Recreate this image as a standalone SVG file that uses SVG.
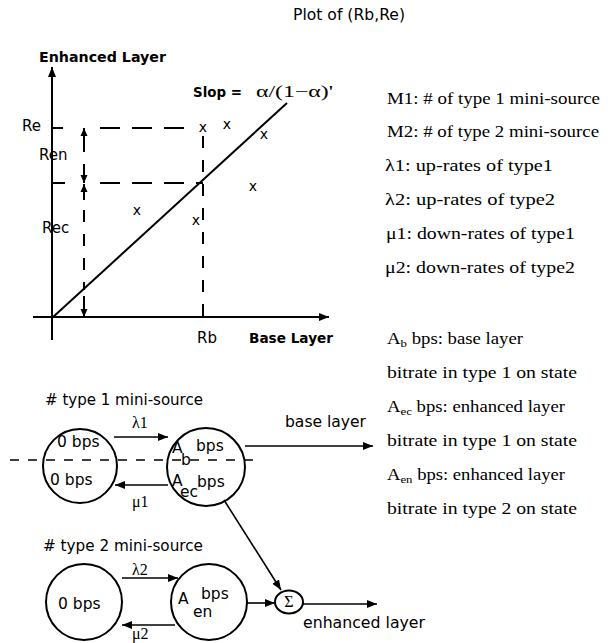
<svg xmlns="http://www.w3.org/2000/svg" width="610" height="643" viewBox="0 0 610 643">
<defs>
<marker id="ah" markerUnits="userSpaceOnUse" markerWidth="10" markerHeight="8" refX="10" refY="4" orient="auto">
<path d="M0,0 L10,4 L0,8 z" fill="#000"/>
</marker>
<marker id="ahs" markerUnits="userSpaceOnUse" markerWidth="8" markerHeight="8" refX="8" refY="4" orient="auto">
<path d="M0,0.5 L8,4 L0,7.5 z" fill="#000"/>
</marker>
</defs>
<style>
.s{font-family:"DejaVu Sans","Liberation Sans",sans-serif;font-size:15px;fill:#000}
.c{font-size:15.5px}
.b{font-weight:bold;font-size:13.5px}
.r{font-family:"Liberation Serif","DejaVu Serif",serif;font-size:16px;fill:#000}
.ln{stroke:#000;stroke-width:2;fill:none}
.th{stroke:#000;stroke-width:1.6;fill:none}
.d{stroke:#000;stroke-width:2;fill:none;stroke-dasharray:20 12}
.dv{stroke:#000;stroke-width:2;fill:none;stroke-dasharray:12 12}
.dh{stroke:#000;stroke-width:1.6;fill:none;stroke-dasharray:9 9}
.n{stroke:#000;stroke-width:2;fill:#fff}
.x{font-family:"DejaVu Sans",sans-serif;font-size:14px;text-anchor:middle}
</style>
<rect width="610" height="643" fill="#fff"/>

<!-- Plot -->
<g id="plot">
<text class="s" x="293" y="20" textLength="112" lengthAdjust="spacingAndGlyphs">Plot  of (Rb,Re)</text>
<text class="s b" x="39" y="62" textLength="127" lengthAdjust="spacingAndGlyphs">Enhanced Layer</text>
<line class="ln" x1="52" y1="340" x2="52" y2="67" marker-end="url(#ah)"/>
<line class="ln" x1="33" y1="317" x2="329" y2="317" marker-end="url(#ah)"/>
<text class="s b" x="249" y="343" textLength="84" lengthAdjust="spacingAndGlyphs">Base Layer</text>
<text class="s" x="197" y="343">Rb</text>
<text class="s" x="22" y="131">Re</text>
<text class="s" x="39" y="160">Ren</text>
<text class="s" x="42" y="233">Rec</text>
<line class="ln" x1="52" y1="128" x2="63" y2="128"/>
<line class="ln" x1="52" y1="183" x2="65" y2="183"/>
<line class="d" x1="100" y1="128" x2="196" y2="128"/>
<line class="d" x1="100" y1="183" x2="203" y2="183"/>
<line class="dv" x1="203" y1="136" x2="203" y2="322"/>
<line class="ln" x1="52" y1="318" x2="287" y2="103"/>
<!-- Ren double arrow -->
<line class="ln" x1="84" y1="152" x2="84" y2="128" marker-end="url(#ahs)"/>
<line class="ln" x1="84" y1="164" x2="84" y2="183" marker-end="url(#ahs)"/>
<!-- Rec double arrow -->
<line class="ln" x1="84" y1="200" x2="84" y2="184" marker-end="url(#ahs)"/>
<line class="dv" x1="84" y1="210" x2="84" y2="290"/>
<line class="ln" x1="84" y1="296" x2="84" y2="317" marker-end="url(#ahs)"/>
<text class="s b" x="193" y="97" textLength="49" lengthAdjust="spacingAndGlyphs">Slop =</text>
<text class="r" x="256" y="97" textLength="77" lengthAdjust="spacingAndGlyphs">α/(1−α)'</text>
<text class="x" x="203" y="132">x</text>
<text class="x" x="227" y="129">x</text>
<text class="x" x="264" y="139">x</text>
<text class="x" x="253" y="191">x</text>
<text class="x" x="137" y="215">x</text>
<text class="x" x="196" y="225">x</text>
</g>

<!-- Legend -->
<g id="legend1">
<text class="r" x="387" y="104" textLength="213" lengthAdjust="spacingAndGlyphs">M1: # of type 1 mini-source</text>
<text class="r" x="387" y="137" textLength="212" lengthAdjust="spacingAndGlyphs">M2: # of type 2 mini-source</text>
<text class="r" x="385" y="171" textLength="168" lengthAdjust="spacingAndGlyphs">λ1: up-rates of type1</text>
<text class="r" x="385" y="205" textLength="170" lengthAdjust="spacingAndGlyphs">λ2: up-rates of type2</text>
<text class="r" x="386" y="239" textLength="189" lengthAdjust="spacingAndGlyphs">μ1: down-rates of type1</text>
<text class="r" x="385" y="273" textLength="190" lengthAdjust="spacingAndGlyphs">μ2: down-rates of type2</text>
</g>
<g id="legend2">
<text class="r" x="387" y="344" textLength="136" lengthAdjust="spacingAndGlyphs">A<tspan font-size="11" dy="3">b</tspan><tspan dy="-3"> bps: base layer</tspan></text>
<text class="r" x="387" y="378" textLength="190" lengthAdjust="spacingAndGlyphs">bitrate in type 1 on state</text>
<text class="r" x="387" y="412" textLength="178" lengthAdjust="spacingAndGlyphs">A<tspan font-size="11" dy="3">ec</tspan><tspan dy="-3"> bps: enhanced layer</tspan></text>
<text class="r" x="387" y="446" textLength="190" lengthAdjust="spacingAndGlyphs">bitrate in type 1 on state</text>
<text class="r" x="387" y="480" textLength="178" lengthAdjust="spacingAndGlyphs">A<tspan font-size="11" dy="3">en</tspan><tspan dy="-3"> bps: enhanced layer</tspan></text>
<text class="r" x="387" y="514" textLength="190" lengthAdjust="spacingAndGlyphs">bitrate in type 2 on state</text>
</g>

<!-- Bottom diagram -->
<text class="s" x="45" y="405" textLength="158" lengthAdjust="spacingAndGlyphs">#  type 1 mini-source</text>
<text class="s" x="43" y="551" textLength="160" lengthAdjust="spacingAndGlyphs">#  type 2  mini-source</text>
<line class="dh" x1="10" y1="460" x2="262" y2="460"/>

<g id="n1-off">
<circle class="n" cx="80" cy="466" r="37" fill-opacity="0"/>
<text class="s c" x="57" y="447">0 bps</text>
<text class="s c" x="50" y="485">0 bps</text>
</g>
<g id="n1-on">
<circle class="n" cx="206" cy="467" r="39" fill-opacity="0"/>
<text class="s c" x="172" y="453">A</text>
<text class="s c" x="181" y="465">b</text>
<text class="s c" x="196" y="451">bps</text>
<text class="s c" x="172" y="486">A</text>
<text class="s c" x="180" y="497">ec</text>
<text class="s c" x="197" y="487">bps</text>
</g>
<g id="n2-off">
<circle class="n" cx="84" cy="602" r="38"/>
<text class="s c" x="58" y="609">0 bps</text>
</g>
<g id="n2-on">
<circle class="n" cx="209" cy="602" r="38"/>
<text class="s c" x="178" y="604">A</text>
<text class="s c" x="193" y="617">en</text>
<text class="s c" x="201" y="599">bps</text>
</g>
<g id="sum">
<ellipse class="n" cx="289" cy="602" rx="14" ry="11.5"/>
<text class="r" x="289" y="607" font-size="14" text-anchor="middle">Σ</text>
</g>

<g id="connectors">
<line class="th" x1="114" y1="437" x2="168" y2="437" marker-end="url(#ah)"/>
<text class="r" x="132" y="428">λ1</text>
<line class="th" x1="168" y1="485" x2="115" y2="485" marker-end="url(#ah)"/>
<text class="r" x="132" y="507">μ1</text>
<line class="th" x1="122" y1="578" x2="178" y2="578" marker-end="url(#ah)"/>
<text class="r" x="132" y="575">λ2</text>
<line class="th" x1="175" y1="625" x2="122" y2="625" marker-end="url(#ah)"/>
<text class="r" x="132" y="639">μ2</text>
<line class="th" x1="245" y1="446" x2="373" y2="446" marker-end="url(#ah)"/>
<text class="s" x="285" y="427" textLength="81" lengthAdjust="spacingAndGlyphs">base layer</text>
<line class="th" x1="224" y1="500" x2="281" y2="590" marker-end="url(#ah)"/>
<line class="th" x1="247" y1="603" x2="275" y2="603" marker-end="url(#ah)"/>
<line class="th" x1="303" y1="604" x2="377" y2="604" marker-end="url(#ah)"/>
<text class="s" x="303" y="628" textLength="122" lengthAdjust="spacingAndGlyphs">enhanced layer</text>
</g>
</svg>
